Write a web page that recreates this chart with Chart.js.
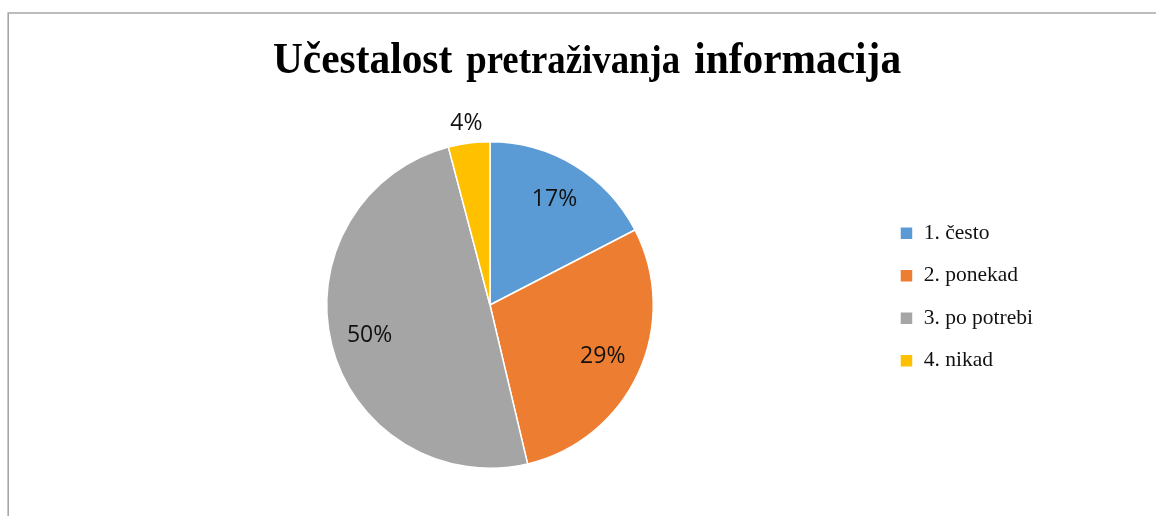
<!DOCTYPE html>
<html>
<head>
<meta charset="utf-8">
<title>Učestalost pretraživanja informacija</title>
<script src="https://cdn.jsdelivr.net/npm/chart.js@4.4.1/dist/chart.umd.min.js"></script>
<style>
  html, body { margin: 0; padding: 0; background: #fff; }
  #wrap { width: 1156px; height: 516px; }
</style>
</head>
<body>
<div id="wrap"><canvas id="chart" width="1156" height="516"></canvas></div>
<script>
const categories = ['1. često', '2. ponekad', '3. po potrebi', '4. nikad'];
const shares = [17.4, 28.9, 49.6, 4.1];
const sliceColors = ['#5B9BD5', '#ED7D31', '#A5A5A5', '#FFC000'];
const titleParts = ['Učestalost', 'pretraživanja', 'informacija'];

// grey frame of the chart area (only top and left edges are visible)
const framePlugin = {
    id: 'frame',
    beforeDraw(chart) {
        const ctx = chart.ctx;
        ctx.save();
        ctx.strokeStyle = '#a6a6a6';
        ctx.lineWidth = 1.6;
        ctx.beginPath();
        ctx.moveTo(8.2, chart.height);
        ctx.lineTo(8.2, 13);
        ctx.lineTo(chart.width, 13);
        ctx.stroke();
        ctx.restore();
    }
};

// title with mixed font sizes
const titlePlugin = {
    id: 'mixedTitle',
    afterDraw(chart) {
        const ctx = chart.ctx;
        const sizes = [45, 40, 45];
        const squeeze = 0.92;
        const gap = 14;
        ctx.save();
        ctx.fillStyle = '#000';
        ctx.textBaseline = 'alphabetic';
        const widths = titleParts.map((t, i) => {
            ctx.font = 'bold ' + sizes[i] + 'px "Liberation Serif", "Times New Roman", serif';
            return ctx.measureText(t).width * squeeze;
        });
        const total = widths.reduce((a, b) => a + b, 0) + gap * (titleParts.length - 1);
        let x = 587 - total / 2;
        titleParts.forEach((t, i) => {
            ctx.font = 'bold ' + sizes[i] + 'px "Liberation Serif", "Times New Roman", serif';
            ctx.save();
            ctx.translate(x, 73);
            ctx.scale(squeeze, 1);
            ctx.fillText(t, 0, 0);
            ctx.restore();
            x += widths[i] + gap;
        });
        ctx.restore();
    }
};

// percentage labels, small slices go outside
const labelPlugin = {
    id: 'sliceLabels',
    afterDatasetsDraw(chart) {
        const ctx = chart.ctx;
        const meta = chart.getDatasetMeta(0);
        ctx.save();
        ctx.font = '23px "Open Sans", sans-serif';
        ctx.fillStyle = '#111';
        ctx.textAlign = 'center';
        ctx.textBaseline = 'middle';
        meta.data.forEach((arc, i) => {
            const p = arc.getProps(['x', 'y', 'startAngle', 'endAngle', 'outerRadius'], true);
            const mid = (p.startAngle + p.endAngle) / 2;
            const r = shares[i] < 5 ? p.outerRadius + 20 : p.outerRadius * 0.76;
            ctx.fillText(Math.round(shares[i]) + '%', p.x + Math.cos(mid) * r, p.y + Math.sin(mid) * r);
        });
        ctx.restore();
    }
};

// legend sits a bit above the pie centre in the original
const legendShift = {
    id: 'legendShift',
    afterLayout(chart) {
        chart.legend.top -= 8;
        chart.legend.bottom -= 8;
    }
};

new Chart(document.getElementById('chart'), {
    type: 'pie',
    data: {
        labels: categories,
        datasets: [{
            data: shares,
            backgroundColor: sliceColors,
            borderColor: '#ffffff',
            borderWidth: 1.5
        }]
    },
    options: {
        responsive: false,
        animation: false,
        events: [],
        layout: {
            padding: { top: 141, bottom: 47, left: 101, right: 113 }
        },
        plugins: {
            title: { display: false },
            tooltip: { enabled: false },
            legend: {
                position: 'right',
                align: 'center',
                labels: {
                    boxWidth: 13,
                    boxHeight: 13,
                    padding: 21,
                    color: '#111',
                    font: { family: '"Liberation Serif", "Times New Roman", serif', size: 21.5 }
                }
            }
        }
    },
    plugins: [framePlugin, titlePlugin, labelPlugin, legendShift]
});
</script>
</body>
</html>
